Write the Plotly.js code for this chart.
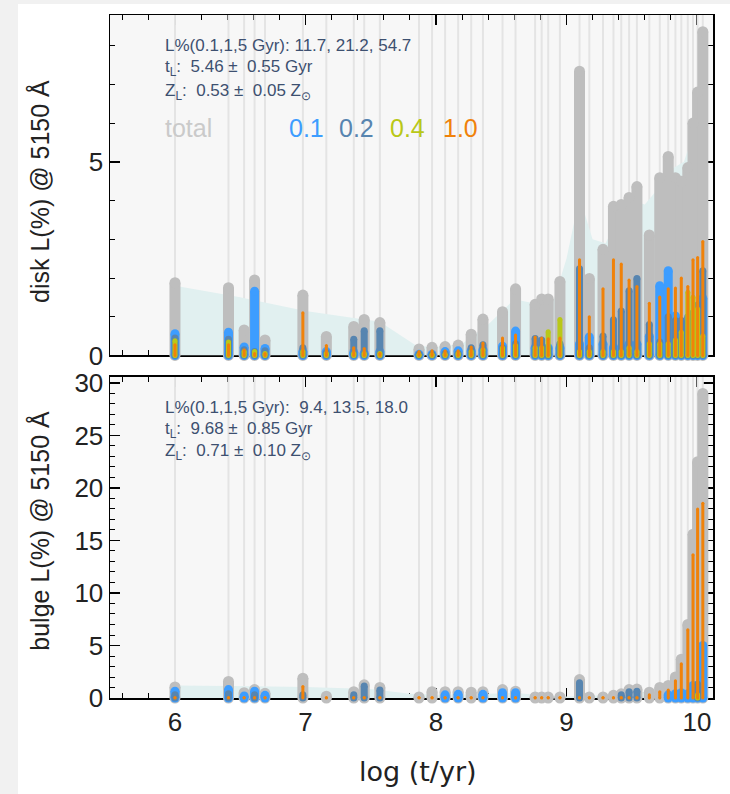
<!DOCTYPE html>
<html>
<head>
<meta charset="utf-8">
<script src="https://cdn.plot.ly/plotly-3.0.1.min.js"></script>
<style>
  html, body { margin: 0; padding: 0; background: #f1f1f1; width: 730px; height: 794px; overflow: hidden; }
  #plot { position: absolute; left: 18px; top: 4px; width: 712px; height: 790px; background: #ffffff; }
</style>
</head>
<body>
<div id="plot"></div>
<script>
// ---- SSP ages, log(t/yr) ----
const ages = [6.00, 6.41, 6.53, 6.61, 6.69, 6.98, 7.16, 7.37, 7.45, 7.57,
              7.87, 7.97, 8.07, 8.17, 8.27, 8.36, 8.51, 8.61, 8.76, 8.81,
              8.86, 8.95, 9.10, 9.175, 9.28, 9.36, 9.42, 9.48, 9.54, 9.635,
              9.715, 9.78, 9.835, 9.88, 9.93, 9.97, 10.005, 10.045];

// ---- disk: light fractions L(%) @ 5150 A ----
const diskTotal = [1.88, 1.75, 0.66, 1.95, 0.40, 1.56, 0.49, 0.75, 0.93, 0.85,
                   0.17, 0.21, 0.23, 0.27, 0.55, 0.94, 1.13, 1.72, 1.32, 1.46,
                   1.46, 1.91, 7.34, 1.99, 2.74, 3.85, 3.90, 4.08, 4.36, 3.11,
                   4.59, 5.14, 4.59, 4.50, 4.85, 6.00, 6.80, 8.36];
const diskZ01 = [0.56, 0.60, 0.22, 1.66, 0.18, 0.10, 0.10, 0.08, 0.06, 0.10,
                 0.03, 0.03, 0.10, 0.12, 0.12, 0.15, 0.24, 0.63, 0.20, 0.20,
                 0.20, 0.20, 0.30, 0.48, 0.30, 0.20, 0.20, 0.30, 0.30, 0.50,
                 1.80, 2.19, 1.02, 0.60, 0.80, 0.80, 1.00, 1.47];
const diskZ02 = [0.45, 0.42, 0.15, 0.10, 0.12, 0.20, 0.08, 0.42, 0.64, 0.64,
                 0.03, 0.03, 0.05, 0.05, 0.20, 0.28, 0.20, 0.30, 0.44, 0.40,
                 0.20, 0.30, 2.24, 0.20, 0.50, 0.92, 1.15, 1.67, 1.99, 0.80,
                 0.35, 1.00, 0.90, 0.90, 1.00, 1.10, 1.30, 2.19];
const diskZ04 = [0.38, 0.35, 0.10, 0.10, 0.05, 0.10, 0.05, 0.05, 0.05, 0.05,
                 0.02, 0.02, 0.03, 0.05, 0.10, 0.15, 0.19, 0.26, 0.20, 0.20,
                 0.61, 0.93, 0.10, 0.10, 0.10, 0.10, 0.10, 0.20, 0.10, 0.30,
                 0.30, 0.30, 0.40, 0.60, 1.63, 1.50, 1.20, 0.50];
const diskZ10 = [0.28, 0.28, 0.15, 0.05, 0.05, 1.10, 0.26, 0.20, 0.18, 0.06,
                 0.10, 0.12, 0.12, 0.12, 0.22, 0.32, 0.45, 0.53, 0.48, 0.45,
                 0.43, 0.45, 2.47, 1.00, 1.72, 2.47, 2.36, 1.95, 1.78, 1.35,
                 1.51, 1.72, 1.74, 2.00, 1.78, 2.47, 2.53, 2.94];
// smoothed disk distribution (shaded)
const diskSmoothX = [6.00, 6.50, 7.00, 7.57, 7.85, 8.00, 8.20, 8.40, 8.60, 8.75, 8.90, 9.00, 9.10, 9.20, 9.30, 9.40, 9.50, 9.60, 9.70, 9.80, 9.90, 10.00, 10.045];
const diskSmoothY = [1.80, 1.50, 1.15, 0.87, 0.25, 0.22, 0.30, 0.80, 1.45, 1.35, 1.40, 2.50, 4.10, 3.00, 2.90, 3.60, 4.00, 3.90, 4.30, 4.80, 5.00, 6.00, 7.00];

// ---- bulge ----
const bulgeTotal = [1.05, 1.57, 0.50, 0.80, 0.45, 1.89, 0.17, 0.60, 1.26, 1.00,
                    0.10, 0.60, 0.60, 0.60, 0.55, 0.60, 0.80, 0.65, 0.10, 0.10,
                    0.10, 0.10, 1.76, 0.10, 0.10, 0.25, 0.40, 0.80, 0.85, 0.55,
                    1.00, 1.20, 2.00, 3.70, 7.00, 15.60, 22.50, 29.00];
const bulgeZ01 = [0.65, 0.80, 0.20, 0.65, 0.25, 0, 0, 0, 0, 0,
                  0, 0, 0.30, 0.35, 0, 0.35, 0.50, 0.50, 0, 0,
                  0, 0, 0, 0, 0, 0, 0, 0, 0, 0,
                  0, 0.30, 0.40, 0.50, 0.40, 1.20, 1.20, 5.00];
const bulgeZ02 = [0.30, 0.40, 0, 0.30, 0, 0.30, 0, 0.30, 1.14, 0.75,
                  0, 0, 0, 0, 0, 0, 0, 0, 0, 0,
                  0, 0, 1.45, 0, 0, 0, 0.30, 0.60, 0.65, 0,
                  0, 0, 0, 0, 0, 0, 1.30, 0];
const bulgeZ04 = [0, 0, 0, 0, 0, 0, 0, 0, 0, 0,
                  0, 0, 0, 0, 0, 0, 0, 0, 0, 0,
                  0, 0, 0, 0, 0, 0, 0, 0, 0, 0,
                  0, 0, 0, 0, 0, 0, 0.30, 0];
const bulgeZ10 = [0.05, 0.05, 0.05, 0.05, 0.05, 1.10, 0.05, 0.05, 0.05, 0.05,
                  0.05, 0.05, 0.05, 0.05, 0.05, 0.05, 0.05, 0.05, 0.05, 0.05,
                  0.05, 0.05, 0.05, 0.05, 0.05, 0.05, 0.05, 0.05, 0.05, 0.30,
                  0.60, 0.76, 1.65, 3.25, 6.50, 13.65, 18.00, 18.55];
const bulgeSmoothX = [6.00, 6.50, 7.00, 7.50, 7.80, 8.00, 8.30, 8.60, 8.80, 9.00, 9.20, 9.40, 9.60, 9.70, 9.80, 9.90, 10.00, 10.045];
const bulgeSmoothY = [1.20, 1.15, 1.05, 0.85, 0.40, 0.30, 0.35, 0.50, 0.25, 0.15, 0.20, 0.30, 0.60, 0.90, 1.60, 3.50, 9.00, 13.00];

// ---- text ----
const diskStats = ["L%(0.1,1,5 Gyr): 11.7, 21.2, 54.7",
                   "t<sub>L</sub>:\u00a0 5.46 \u00b1\u00a0 0.55 Gyr",
                   "Z<sub>L</sub>:\u00a0 0.53 \u00b1\u00a0 0.05 Z<sub>\u2299</sub>"];
const bulgeStats = ["L%(0.1,1,5 Gyr):\u00a0 9.4, 13.5, 18.0",
                    "t<sub>L</sub>:\u00a0 9.68 \u00b1\u00a0 0.85 Gyr",
                    "Z<sub>L</sub>:\u00a0 0.71 \u00b1\u00a0 0.10 Z<sub>\u2299</sub>"];
const legendLabels = ["total", "0.1", "0.2", "0.4", "1.0"];
const xTickVals = [6, 7, 8, 9, 10];

// ---- styles ----
const C = { grid: '#e4e4e4', shade: '#e1f0f0', total: '#bebebe',
            z01: '#3d9dff', z02: '#5785b0', z04: '#b9c818', z10: '#f0820a' };
const W = { total: 11, z01: 9, z02: 7, z04: 5, z10: 3 };
const FONT = 'Liberation Sans, Arial, sans-serif';

function segs(xs, vs) {
  const x = [], y = [];
  xs.forEach((a, i) => { if (vs[i] > 0) { x.push(a, a, null); y.push(0, vs[i], null); } });
  return { x, y };
}
function barTrace(vals, color, w, xa, ya) {
  const s = segs(ages, vals);
  return { type: 'scatter', mode: 'lines+markers', x: s.x, y: s.y, xaxis: xa, yaxis: ya,
           line: { color: color, width: w }, marker: { color: color, size: w, line: { width: 0 } },
           cliponaxis: false, hoverinfo: 'skip', showlegend: false, connectgaps: false };
}
function gridTrace(top, xa, ya) {
  const x = [], y = [];
  ages.forEach(a => { x.push(a, a, null); y.push(0, top, null); });
  return { type: 'scatter', mode: 'lines', x, y, xaxis: xa, yaxis: ya,
           line: { color: C.grid, width: 2 }, hoverinfo: 'skip', showlegend: false };
}
function shadeTrace(xs, ys, xa, ya) {
  return { type: 'scatter', mode: 'lines', x: xs, y: ys, xaxis: xa, yaxis: ya, fill: 'tozeroy',
           fillcolor: C.shade, line: { width: 0, color: C.shade }, hoverinfo: 'skip', showlegend: false };
}

const Y1MAX = 8.79, Y2MAX = 30.57;
const traces = [
  gridTrace(Y1MAX, 'x', 'y'),
  shadeTrace(diskSmoothX, diskSmoothY, 'x', 'y'),
  barTrace(diskTotal, C.total, W.total, 'x', 'y'),
  barTrace(diskZ01, C.z01, W.z01, 'x', 'y'),
  barTrace(diskZ02, C.z02, W.z02, 'x', 'y'),
  barTrace(diskZ04, C.z04, W.z04, 'x', 'y'),
  barTrace(diskZ10, C.z10, W.z10, 'x', 'y'),
  gridTrace(Y2MAX, 'x2', 'y2'),
  shadeTrace(bulgeSmoothX, bulgeSmoothY, 'x2', 'y2'),
  barTrace(bulgeTotal, C.total, W.total, 'x2', 'y2'),
  barTrace(bulgeZ01, C.z01, W.z01, 'x2', 'y2'),
  barTrace(bulgeZ02, C.z02, W.z02, 'x2', 'y2'),
  barTrace(bulgeZ04, C.z04, W.z04, 'x2', 'y2'),
  barTrace(bulgeZ10, C.z10, W.z10, 'x2', 'y2')
];

const axBase = {
  showline: true, mirror: 'allticks', linecolor: '#000', linewidth: 1.5,
  ticks: 'inside', ticklen: 10, tickwidth: 1.5, tickcolor: '#000',
  showgrid: false, zeroline: false, layer: 'below traces',
  tickfont: { family: FONT, size: 26, color: '#222' }
};
const xRange = [5.502, 10.123];

const statColor = '#3d5070';
const annotations = [];
const diskY = [0.956, 0.922, 0.887];
const bulgeY = [0.426, 0.392, 0.360];
diskStats.forEach((t, i) => annotations.push({ text: t, xref: 'paper', yref: 'paper', x: 0.0879, y: diskY[i],
  xanchor: 'left', yanchor: 'middle', showarrow: false, font: { family: FONT, size: 17, color: statColor } }));
bulgeStats.forEach((t, i) => annotations.push({ text: t, xref: 'paper', yref: 'paper', x: 0.0879, y: bulgeY[i],
  xanchor: 'left', yanchor: 'middle', showarrow: false, font: { family: FONT, size: 17, color: statColor } }));
const legColors = ['#cacaca', C.z01, C.z02, C.z04, C.z10];
const legX = [0.0879, 0.293, 0.376, 0.461, 0.549];
legendLabels.forEach((t, i) => annotations.push({ text: t, xref: 'paper', yref: 'paper', x: legX[i], y: 0.835,
  xanchor: 'left', yanchor: 'middle', showarrow: false, font: { family: FONT, size: 25, color: legColors[i] } }));
annotations.push({ text: 'disk L(%) @ 5150 \u00c5', xref: 'paper', yref: 'paper', x: -0.116, y: 0.741,
  textangle: -90, xanchor: 'center', yanchor: 'middle', showarrow: false, font: { family: FONT, size: 25, color: '#222' } });
annotations.push({ text: 'bulge L(%) @ 5150 \u00c5', xref: 'paper', yref: 'paper', x: -0.116, y: 0.245,
  textangle: -90, xanchor: 'center', yanchor: 'middle', showarrow: false, font: { family: FONT, size: 25, color: '#222' } });
annotations.push({ text: 'log (t/yr)', xref: 'paper', yref: 'paper', x: 0.511, y: -0.108,
  xanchor: 'center', yanchor: 'middle', showarrow: false, font: { family: 'DejaVu Sans, sans-serif', size: 27, color: '#222' } });

const layout = {
  width: 712, height: 790,
  margin: { l: 92, r: 17, t: 11, b: 96, pad: 0 },
  paper_bgcolor: '#ffffff', plot_bgcolor: '#f7f7f7',
  showlegend: false,
  xaxis: Object.assign({}, axBase, { domain: [0, 1], range: xRange, anchor: 'y', tick0: 0, dtick: 1,
    showticklabels: false, minor: { dtick: 0.2, tick0: 0, ticks: 'inside', ticklen: 5, tickwidth: 1, tickcolor: '#000' } }),
  yaxis: Object.assign({}, axBase, { domain: [0.5015, 1], range: [0, Y1MAX], anchor: 'x', tick0: 0, dtick: 5,
    minor: { dtick: 1, tick0: 0, ticks: 'inside', ticklen: 5, tickwidth: 1, tickcolor: '#000' } }),
  xaxis2: Object.assign({}, axBase, { domain: [0, 1], range: xRange, anchor: 'y2', tickmode: 'array', tickvals: xTickVals,
    minor: { dtick: 0.2, tick0: 0, ticks: 'inside', ticklen: 5, tickwidth: 1, tickcolor: '#000' } }),
  yaxis2: Object.assign({}, axBase, { domain: [0, 0.47], range: [0, Y2MAX], anchor: 'x2', tick0: 0, dtick: 5,
    minor: { dtick: 1, tick0: 0, ticks: 'inside', ticklen: 5, tickwidth: 1, tickcolor: '#000' } }),
  annotations: annotations
};

Plotly.newPlot('plot', traces, layout, { displayModeBar: false, staticPlot: true });
</script>
</body>
</html>
